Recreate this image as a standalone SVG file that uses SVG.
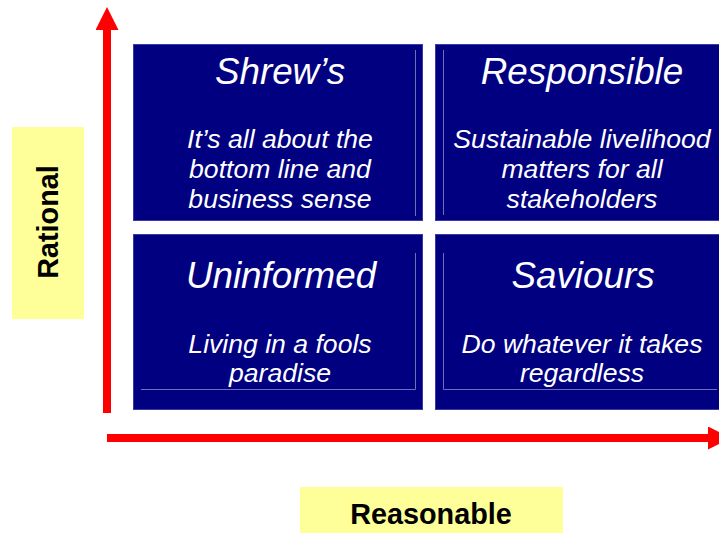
<svg xmlns="http://www.w3.org/2000/svg" width="719" height="533" viewBox="0 0 719 533">
  <style>
    .quad { fill: #000080; stroke: #3a3aa6; stroke-width: 1; }
    .rule { stroke: #6f6fb8; stroke-width: 1; fill: none; }
    .title { font-family: "Liberation Sans", Arial, sans-serif; font-style: italic; font-size: 36.8px; fill: #ffffff; text-anchor: middle; }
    .desc { font-family: "Liberation Sans", Arial, sans-serif; font-style: italic; font-size: 26.6px; fill: #ffffff; text-anchor: middle; }
    .axis-label { fill: #ffff99; }
    .axis-text { font-family: "Liberation Sans", Arial, sans-serif; font-weight: bold; font-size: 28.8px; fill: #000000; text-anchor: middle; }
    .axis { stroke: #ff0000; stroke-width: 8; fill: none; }
  </style>
  <defs>
    <marker id="head" viewBox="0 0 23 23" refX="0" refY="11.5" markerUnits="userSpaceOnUse" markerWidth="23" markerHeight="23" orient="auto">
      <polygon points="0,0 23,11.5 0,23" fill="#ff0000"/>
    </marker>
  </defs>
  <rect width="719" height="533" fill="#ffffff"/>

  <!-- axes -->
  <g id="connectors">
    <line class="axis" x1="107" y1="413" x2="107" y2="30" marker-end="url(#head)"/>
    <line class="axis" x1="107" y1="438" x2="708" y2="438" marker-end="url(#head)"/>
  </g>

  <!-- quadrants -->
  <g id="shrews">
    <rect class="quad" x="133.5" y="44.5" width="289" height="176"/>
    <line class="rule" x1="415.5" y1="50" x2="415.5" y2="216"/>
    <text class="title" x="280" y="84">Shrew’s</text>
    <text class="desc" x="280" y="148">It’s all about the</text>
    <text class="desc" x="280" y="178">bottom line and</text>
    <text class="desc" x="280" y="208">business sense</text>
  </g>

  <g id="responsible">
    <rect class="quad" x="435.5" y="44.5" width="290" height="176"/>
    <line class="rule" x1="443.5" y1="50" x2="443.5" y2="215"/>
    <text class="title" x="582" y="84">Responsible</text>
    <text class="desc" x="582" y="148">Sustainable livelihood</text>
    <text class="desc" x="582" y="178">matters for all</text>
    <text class="desc" x="582" y="208">stakeholders</text>
  </g>

  <g id="uninformed">
    <rect class="quad" x="133.5" y="234.5" width="289" height="175"/>
    <polyline class="rule" points="141,389.5 415.5,389.5 415.5,253"/>
    <text class="title" x="281" y="288">Uninformed</text>
    <text class="desc" x="280" y="353">Living in a fools</text>
    <text class="desc" x="280" y="382">paradise</text>
  </g>

  <g id="saviours">
    <rect class="quad" x="435.5" y="234.5" width="290" height="175"/>
    <polyline class="rule" points="443.5,253 443.5,389.5 717,389.5"/>
    <text class="title" x="583" y="288">Saviours</text>
    <text class="desc" x="582" y="353">Do whatever it takes</text>
    <text class="desc" x="582" y="382">regardless</text>
  </g>

  <!-- axis labels -->
  <g id="rational">
    <rect class="axis-label" x="12" y="127" width="72" height="192"/>
    <text class="axis-text" transform="translate(58 222) rotate(-90)" x="0" y="0">Rational</text>
  </g>

  <g id="reasonable">
    <rect class="axis-label" x="300" y="487" width="263" height="46"/>
    <text class="axis-text" x="431" y="524">Reasonable</text>
  </g>
</svg>
